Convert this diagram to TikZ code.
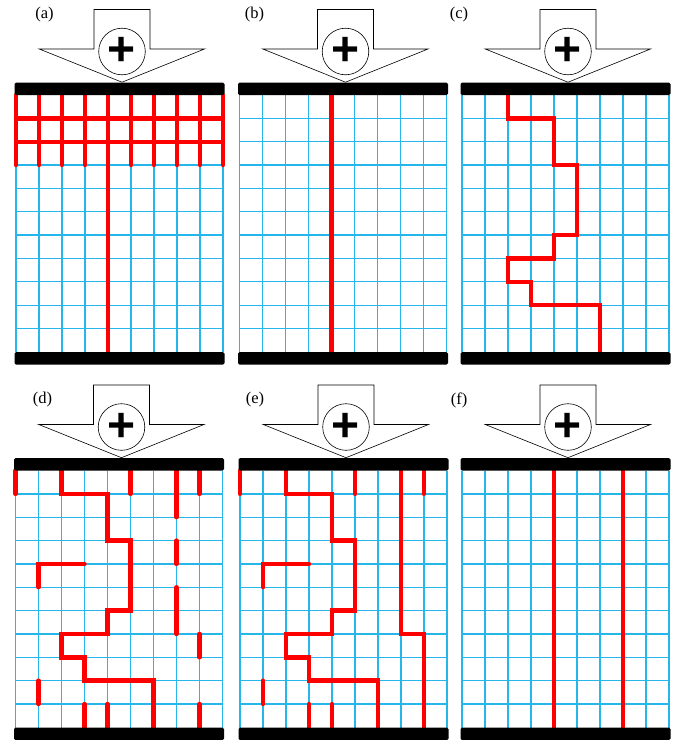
\documentclass[tikz,border=0pt]{standalone}
\usepackage{fontspec}
\setmainfont{Liberation Serif}
\newfontfamily\plusfont{Liberation Sans}
\definecolor{wireRed}{RGB}{255,0,0}
\definecolor{meshBlue}{RGB}{38,182,236}
\tikzset{
  meshline/.style={draw=meshBlue,line width=1.3pt},
  wire/.style={draw=wireRed,line width=4.4pt,line cap=round},
  plate/.style={fill=black,rounded corners=1.5pt},
  pusher/.style={draw=black,fill=white,line width=0.6pt},
  plussign/.style={circle,draw=black,fill=white,line width=0.6pt,minimum size=46.6pt,inner sep=0pt,font=\plusfont\bfseries\fontsize{48}{48}\selectfont},
  panellabel/.style={font=\fontsize{16.5}{16.5}\selectfont},
  meshunits/.style={x=23pt,y=-23.35pt},
}

\begin{document}
\begin{tikzpicture}[x=1pt,y=-1pt]
  \useasboundingbox (0,0) rectangle (688,740);

  % Mesh of each panel.
  \foreach \px/\py in {16/95,239.5/95,462/95,15.5/470.5,240/470.5,462/470.5} {
    \begin{scope}[shift={(\px,\py)}]
      \foreach \i in {0,...,9}
        \draw[meshline] (\i*23,0) -- (\i*23,257);
      \foreach \j in {1,...,10}
        \draw[meshline] (0,\j*23.35) -- (207,\j*23.35);
    \end{scope}
  }

  % (a) dense top network with one path down.
  \begin{scope}[shift={(16,95)},meshunits]
    \foreach \i in {0,...,9}
      \draw[wire] (\i,0) -- (\i,3);
    \foreach \j in {1,2}
      \draw[wire] (0,\j) -- (9,\j);
    \draw[wire] (4,0) -- (4,11);
  \end{scope}

  % (b) straight filament.
  \begin{scope}[shift={(239.5,95)},meshunits]
    \draw[wire] (4,0) -- (4,11);
  \end{scope}

  % Staircase filament shared by (c), (d) and (e).
  \foreach \px/\py in {462/95,15.5/470.5,240/470.5} {
    \begin{scope}[shift={(\px,\py)},meshunits]
      \draw[wire] (2,0) |- (4,1) |- (5,3) |- (4,6) |- (2,7) |- (3,8) |- (6,9) -- (6,11);
    \end{scope}
  }

  % (d) broken fragments.
  \begin{scope}[shift={(15.5,470.5)},meshunits]
    \draw[wire] (0,0) -- (0,1);
    \draw[wire] (5,0) -- (5,1);
    \draw[wire] (7,0) -- (7,2);
    \draw[wire] (8,0) -- (8,1);
    \draw[wire] (7,3) -- (7,4);
    \draw[wire] (7,5) -- (7,7);
    \draw[wire] (1,5) |- (3,4);
    \draw[wire] (8,7) -- (8,8);
    \draw[wire] (1,9) -- (1,10);
    \draw[wire] (3,10) -- (3,11);
    \draw[wire] (4,10) -- (4,11);
    \draw[wire] (8,10) -- (8,11);
  \end{scope}

  % (e) fragments joined into a second filament.
  \begin{scope}[shift={(240,470.5)},meshunits]
    \draw[wire] (0,0) -- (0,1);
    \draw[wire] (5,0) -- (5,1);
    \draw[wire] (8,0) -- (8,1);
    \draw[wire] (7,0) |- (8,7) -- (8,11);
    \draw[wire] (1,5) |- (3,4);
    \draw[wire] (1,9) -- (1,10);
    \draw[wire] (3,10) -- (3,11);
    \draw[wire] (4,10) -- (4,11);
  \end{scope}

  % (f) two straight filaments.
  \begin{scope}[shift={(462,470.5)},meshunits]
    \draw[wire] (4,0) -- (4,11);
    \draw[wire] (7,0) -- (7,11);
  \end{scope}

  % Electrodes, pushing arrow and labels.
  \foreach \px/\py/\tag/\lx/\ly in {16/95/a/28.5/-80,239.5/95/b/15/-80,462/95/c/-3/-80,
                                    15.5/470.5/d/27/-70.5,240/470.5/e/15/-70.5,462/470.5/f/-3/-70.5} {
    \begin{scope}[shift={(\px,\py)}]
      \fill[plate] (-1.5,-12.5) rectangle (208.5,0);
      \fill[plate] (-1.5,257) rectangle (208.5,269.5);
      \draw[pusher] (78,-85.5) -- (134,-85.5) -- (134,-46) -- (188.5,-46)
        -- (106,-12.8) -- (23.3,-46) -- (78,-46) -- cycle;
      \node[plussign] (sign-\tag) at (106,-43.5) {+};
      \node[panellabel] (tag-\tag) at (\lx,\ly) {(\tag)};
    \end{scope}
  }
\end{tikzpicture}
\end{document}
